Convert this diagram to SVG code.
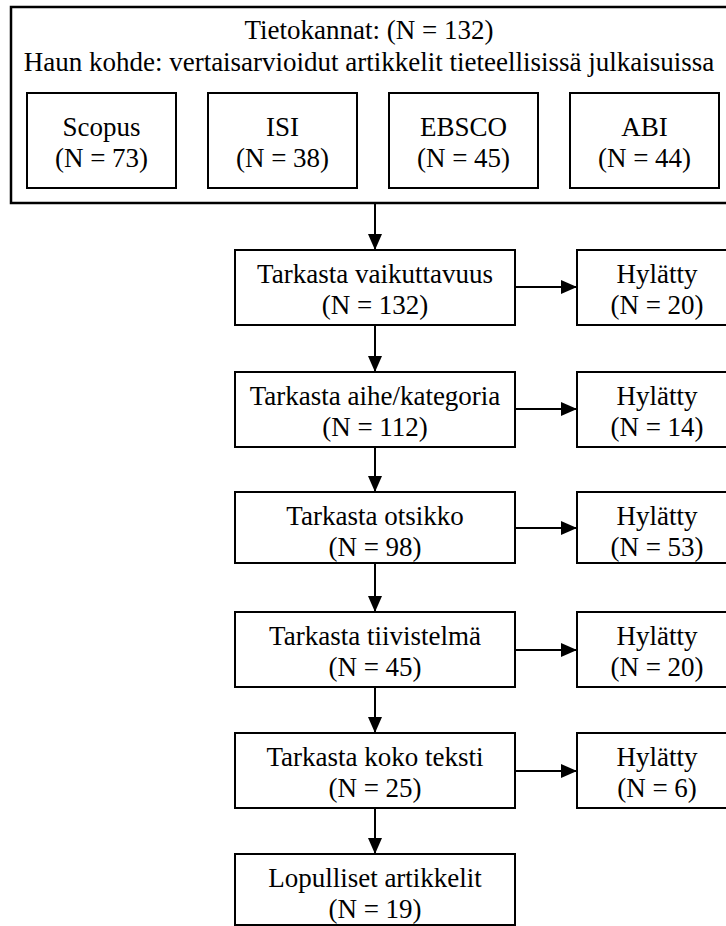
<svg xmlns="http://www.w3.org/2000/svg" width="726" height="926" viewBox="0 0 726 926">
<style>
.box{fill:#fff;stroke:#000;stroke-width:2}
.outer{fill:#fff;stroke:#000;stroke-width:2.5}
.t{font-family:"Liberation Serif","Times New Roman",serif;font-size:27px;fill:#000;text-anchor:middle}
.c{stroke:#000;stroke-width:2;fill:none;marker-end:url(#ah)}
</style>
<defs>
<marker id="ah" markerUnits="userSpaceOnUse" markerWidth="16" markerHeight="14" refX="16" refY="7" orient="auto">
<path d="M0,0 L16,7 L0,14 z" fill="#000"/>
</marker>
</defs>
<rect width="726" height="926" fill="#fff"/>
<g id="databases">
<rect class="outer" x="11" y="7" width="721" height="196"/>
<text class="t" x="369" y="39">Tietokannat: (N = 132)</text>
<text class="t" x="369" y="71">Haun kohde: vertaisarvioidut artikkelit tieteellisissä julkaisuissa</text>
</g>
<g id="scopus"><rect class="box" x="27" y="93" width="149" height="95"/><text class="t" x="101.5" y="136">Scopus</text><text class="t" x="101.5" y="167">(N = 73)</text></g>
<g id="isi"><rect class="box" x="208" y="93" width="149" height="95"/><text class="t" x="282.5" y="136">ISI</text><text class="t" x="282.5" y="167">(N = 38)</text></g>
<g id="ebsco"><rect class="box" x="389" y="93" width="149" height="95"/><text class="t" x="463.5" y="136">EBSCO</text><text class="t" x="463.5" y="167">(N = 45)</text></g>
<g id="abi"><rect class="box" x="570" y="93" width="149" height="95"/><text class="t" x="644.5" y="136">ABI</text><text class="t" x="644.5" y="167">(N = 44)</text></g>

<g id="connectors">
<line class="c" x1="375" y1="203" x2="375" y2="250"/>
<line class="c" x1="375" y1="325" x2="375" y2="372"/>
<line class="c" x1="375" y1="447" x2="375" y2="492"/>
<line class="c" x1="375" y1="563" x2="375" y2="612"/>
<line class="c" x1="375" y1="687" x2="375" y2="733"/>
<line class="c" x1="375" y1="808" x2="375" y2="854"/>
<line class="c" x1="515" y1="287" x2="577" y2="287"/>
<line class="c" x1="515" y1="409" x2="577" y2="409"/>
<line class="c" x1="515" y1="528" x2="577" y2="528"/>
<line class="c" x1="515" y1="650" x2="577" y2="650"/>
<line class="c" x1="515" y1="771" x2="577" y2="771"/>
</g>

<g id="check1"><rect class="box" x="235" y="250" width="280" height="75"/><text class="t" x="375" y="283">Tarkasta vaikuttavuus</text><text class="t" x="375" y="314">(N = 132)</text></g>
<g id="rej1"><rect class="box" x="577" y="250" width="160" height="75"/><text class="t" x="657" y="283">Hylätty</text><text class="t" x="657" y="314">(N = 20)</text></g>

<g id="check2"><rect class="box" x="235" y="372" width="280" height="75"/><text class="t" x="375" y="405">Tarkasta aihe/kategoria</text><text class="t" x="375" y="436">(N = 112)</text></g>
<g id="rej2"><rect class="box" x="577" y="372" width="160" height="75"/><text class="t" x="657" y="405">Hylätty</text><text class="t" x="657" y="436">(N = 14)</text></g>

<g id="check3"><rect class="box" x="235" y="492" width="280" height="71"/><text class="t" x="375" y="525">Tarkasta otsikko</text><text class="t" x="375" y="556">(N = 98)</text></g>
<g id="rej3"><rect class="box" x="577" y="492" width="160" height="71"/><text class="t" x="657" y="525">Hylätty</text><text class="t" x="657" y="556">(N = 53)</text></g>

<g id="check4"><rect class="box" x="235" y="612" width="280" height="75"/><text class="t" x="375" y="645">Tarkasta tiivistelmä</text><text class="t" x="375" y="676">(N = 45)</text></g>
<g id="rej4"><rect class="box" x="577" y="612" width="160" height="75"/><text class="t" x="657" y="645">Hylätty</text><text class="t" x="657" y="676">(N = 20)</text></g>

<g id="check5"><rect class="box" x="235" y="733" width="280" height="75"/><text class="t" x="375" y="766">Tarkasta koko teksti</text><text class="t" x="375" y="797">(N = 25)</text></g>
<g id="rej5"><rect class="box" x="577" y="733" width="160" height="75"/><text class="t" x="657" y="766">Hylätty</text><text class="t" x="657" y="797">(N = 6)</text></g>

<g id="final"><rect class="box" x="235" y="854" width="280" height="71"/><text class="t" x="375" y="887">Lopulliset artikkelit</text><text class="t" x="375" y="918">(N = 19)</text></g>
</svg>
